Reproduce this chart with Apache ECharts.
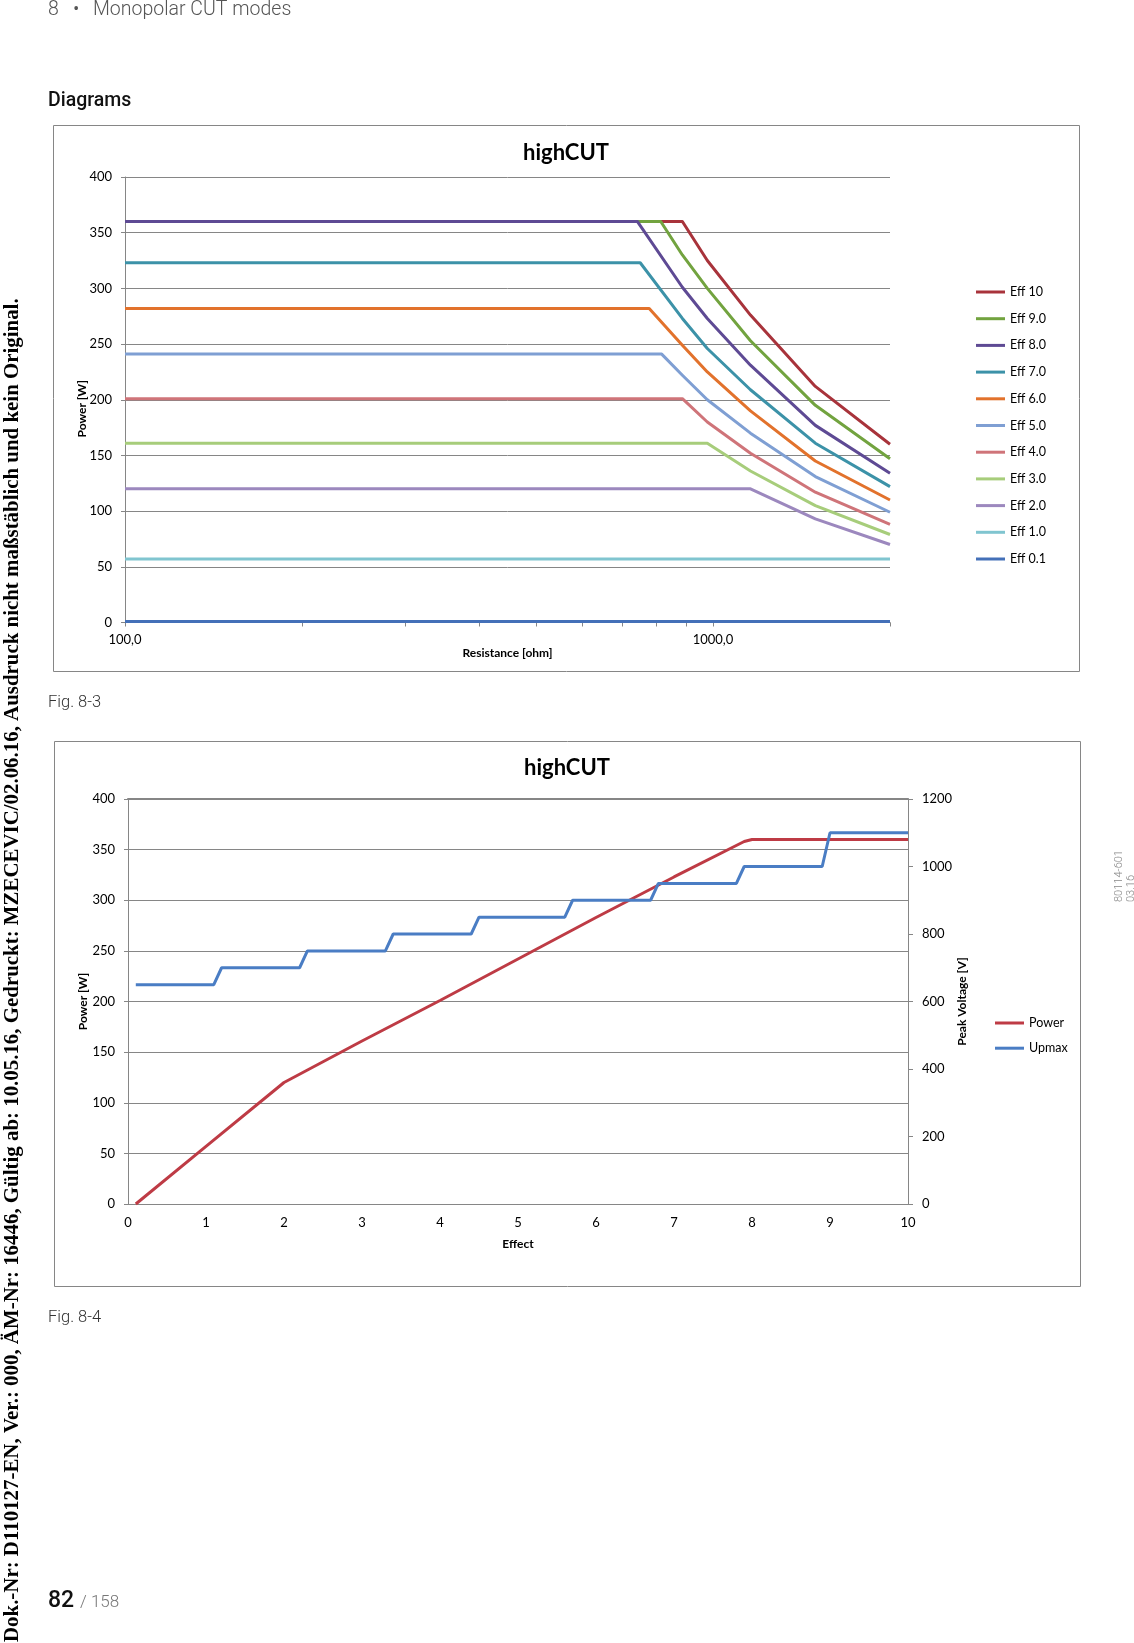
<!DOCTYPE html>
<html>
<head>
<meta charset="utf-8">
<script src="https://cdn.jsdelivr.net/npm/echarts@6/dist/echarts.min.js"></script>
<style>
html,body{margin:0;padding:0;background:#fff;}
#main{width:1134px;height:1643px;}
</style>
</head>
<body>
<div id="main"></div>
<script>
// ---------- Fig. 8-3 : power vs resistance ----------
const effNames = ['Eff 10','Eff 9.0','Eff 8.0','Eff 7.0','Eff 6.0','Eff 5.0','Eff 4.0','Eff 3.0','Eff 2.0','Eff 1.0','Eff 0.1'];
const effColors = ['#A8333B','#72A33F','#5E4A94','#3C92A8','#E2722C','#7F9FD3','#CF7479','#A7CD7B','#9C88BE','#80C5D0','#4470B8'];
const eff10 = [[100,360],[887,360],[978,325],[1158,276],[1493,212],[2000,160]];
const eff9  = [[100,360],[815,360],[887,330],[978,300],[1158,253],[1493,195],[2000,147]];
const eff8  = [[100,360],[744,360],[887,301],[978,273],[1158,231],[1493,177],[2000,134]];
const eff7  = [[100,323],[752,323],[887,273],[978,246],[1158,209],[1493,161],[2000,122]];
const eff6  = [[100,282],[779,282],[887,249],[978,225],[1158,190],[1493,145],[2000,110]];
const eff5  = [[100,241],[818,241],[887,222],[978,200],[1158,170],[1493,131],[2000,99]];
const eff4  = [[100,201],[887,201],[978,180],[1158,152],[1493,117],[2000,88]];
const eff3  = [[100,161],[978,161],[1158,136],[1493,105],[2000,79]];
const eff2  = [[100,120],[1158,120],[1493,93],[2000,70]];
const eff1  = [[100,57],[2000,57]];
const eff01 = [[100,1],[2000,1]];
const effData = [eff10,eff9,eff8,eff7,eff6,eff5,eff4,eff3,eff2,eff1,eff01];
const resTicks = [100,200,300,400,500,600,700,800,900,1000,2000];
const resLabels = [100,1000];

// ---------- Fig. 8-4 : power and peak voltage vs effect ----------
const powerData = [[0.1,0],[1,57],[2,120],[3,161],[4,201],[5,242],[6,283],[7,323],[7.9,358],[8,360],[9,360],[10,360]];
const upmaxData = [[0.1,650],[1.1,650],[1.2,700],[2.2,700],[2.3,750],[3.3,750],[3.4,800],[4.4,800],[4.5,850],[5.6,850],[5.7,900],[6.7,900],[6.8,950],[7.8,950],[7.9,1000],[8.9,1000],[9.0,1100],[10,1100]];

const GRID = '#868686';
const FONT = 'Lato, "Open Sans", sans-serif';

const series = [];
effNames.forEach((n,i)=>{
  series.push({name:n,type:'line',xAxisIndex:0,yAxisIndex:0,data:effData[i],showSymbol:false,symbol:'none',
    lineStyle:{width:3,color:effColors[i],join:'round'},itemStyle:{color:effColors[i]}});
});
series.push({name:'Power',type:'line',xAxisIndex:1,yAxisIndex:1,data:powerData,showSymbol:false,symbol:'none',
  lineStyle:{width:3,color:'#BE3B45'},itemStyle:{color:'#BE3B45'}});
series.push({name:'Upmax',type:'line',xAxisIndex:1,yAxisIndex:2,data:upmaxData,showSymbol:false,symbol:'none',
  lineStyle:{width:3,color:'#4A7DC4'},itemStyle:{color:'#4A7DC4'}});

function txt(text,x,y,font,fill,opts){
  return Object.assign({type:'text',x:x,y:y,silent:true,z:100,
    style:{text:text,font:font,fill:fill,textAlign:'left',textVerticalAlign:'middle',align:'left',verticalAlign:'middle'}},opts||{});
}
function ctxt(text,x,y,font,fill){
  return {type:'text',x:x,y:y,silent:true,z:100,
    style:{text:text,font:font,fill:fill,textAlign:'center',align:'center',textVerticalAlign:'middle',verticalAlign:'middle'}};
}

const LBL = {color:'#000',fontSize:13,fontFamily:FONT};
const NAME = {fontWeight:'bold',fontSize:12,color:'#000',fontFamily:FONT};

const option = {
  animation:false,
  backgroundColor:'#ffffff',
  textStyle:{fontFamily:FONT},
  grid:[
    {left:125,top:177,width:765,height:445.5},
    {left:128,top:799,width:780,height:405}
  ],
  xAxis:[
    {gridIndex:0,type:'log',logBase:10,min:100,max:2000,
     axisLine:{show:true,onZero:false,lineStyle:{color:GRID,width:1}},
     axisTick:{show:true,customValues:resTicks,length:4,lineStyle:{color:GRID}},
     axisLabel:Object.assign({customValues:resLabels,formatter:v=>Number(v).toFixed(1).replace('.',','),margin:11},LBL),
     splitLine:{show:false},minorTick:{show:false},
     name:'Resistance [ohm]',nameLocation:'middle',nameGap:25,nameTextStyle:NAME},
    {gridIndex:1,type:'value',min:0,max:10,interval:1,
     axisLine:{show:true,onZero:false,lineStyle:{color:GRID,width:1}},
     axisTick:{show:false},
     axisLabel:Object.assign({margin:12},LBL),
     splitLine:{show:false},
     name:'Effect',nameLocation:'middle',nameGap:34,nameTextStyle:NAME},
    {gridIndex:1,type:'value',min:0,max:10,position:'top',
     axisLine:{show:true,onZero:false,lineStyle:{color:GRID,width:2}},
     axisTick:{show:false},axisLabel:{show:false},splitLine:{show:false}}
  ],
  yAxis:[
    {gridIndex:0,type:'value',min:0,max:400,interval:50,
     axisLine:{show:true,onZero:false,lineStyle:{color:GRID}},
     axisTick:{show:true,length:4,lineStyle:{color:GRID}},
     axisLabel:Object.assign({margin:13},LBL),
     splitLine:{show:true,lineStyle:{color:GRID,width:1}},
     name:'Power [W]',nameLocation:'middle',nameGap:37,nameMoveOverlap:false,
     nameTextStyle:Object.assign({padding:[0,18,0,0]},NAME)},
    {gridIndex:1,type:'value',min:0,max:400,interval:50,position:'left',
     axisLine:{show:true,onZero:false,lineStyle:{color:GRID}},
     axisTick:{show:true,length:4,lineStyle:{color:GRID}},
     axisLabel:Object.assign({margin:13},LBL),
     splitLine:{show:true,lineStyle:{color:GRID,width:1}},
     name:'Power [W]',nameLocation:'middle',nameGap:39,nameMoveOverlap:false,nameTextStyle:NAME},
    {gridIndex:1,type:'value',min:0,max:1200,interval:200,position:'right',
     axisLine:{show:true,onZero:false,lineStyle:{color:GRID}},
     axisTick:{show:true,length:5,lineStyle:{color:GRID}},
     axisLabel:Object.assign({margin:14,formatter:v=>String(v)},LBL),
     splitLine:{show:false},
     name:'Peak Voltage [V]',nameLocation:'middle',nameGap:48,nameRotate:90,nameMoveOverlap:false,nameTextStyle:NAME}
  ],
  legend:[
    {data:effNames,orient:'vertical',left:971,top:279,itemWidth:29,itemHeight:3,icon:'rect',itemGap:10.7,
     textStyle:{fontSize:12.5,color:'#000',lineHeight:16,fontFamily:FONT},selectedMode:false},
    {data:['Power','Upmax'],orient:'vertical',left:990,top:1010,itemWidth:29,itemHeight:3,icon:'rect',itemGap:9.2,
     textStyle:{fontSize:12.5,color:'#000',lineHeight:16,fontFamily:FONT},selectedMode:false}
  ],
  series:series,
  graphic:{elements:[
    {type:'rect',silent:true,shape:{x:53.5,y:125.5,width:1026,height:546},style:{fill:'none',stroke:GRID,lineWidth:1}},
    {type:'rect',silent:true,shape:{x:54.5,y:741.5,width:1026,height:545},style:{fill:'none',stroke:GRID,lineWidth:1}},
    ctxt('highCUT',566,153,'bold 22px '+FONT,'#000'),
    ctxt('highCUT',567,768,'bold 22px '+FONT,'#000'),
    txt('8',48,10,'300 19.5px Roboto','#555'),
    txt('\u2022',73,10,'300 19.5px Roboto','#555'),
    txt('Monopolar CUT modes',93,10,'300 19.5px Roboto','#555'),
    txt('Diagrams',48,101.5,'500 19.5px Roboto','#111'),
    txt('Fig. 8-3',48,703,'300 16.5px Roboto','#333'),
    txt('Fig. 8-4',48,1318,'300 16.5px Roboto','#333'),
    txt('82',48,1601.5,'500 23px Roboto','#111'),
    txt('/ 158',80,1603,'300 17px Roboto','#777'),
    txt('Dok.-Nr: D110127-EN, Ver.: 000, \u00C4M-Nr: 16446, G\u00FCltig ab: 10.05.16, Gedruckt: MZECEVIC/02.06.16, Ausdruck nicht ma\u00DFst\u00E4blich und kein Original.',13,1642,'bold 20.9px "Liberation Serif"','#000',{rotation:Math.PI/2}),
    txt('80114-601',1119,902,'300 11px Roboto','#888',{rotation:Math.PI/2}),
    txt('03.16',1131,902,'300 11px Roboto','#888',{rotation:Math.PI/2})
  ]}
};

const chart = echarts.init(document.getElementById('main'),null,{renderer:'canvas',width:1134,height:1643});
chart.setOption(option);
</script>
</body>
</html>
